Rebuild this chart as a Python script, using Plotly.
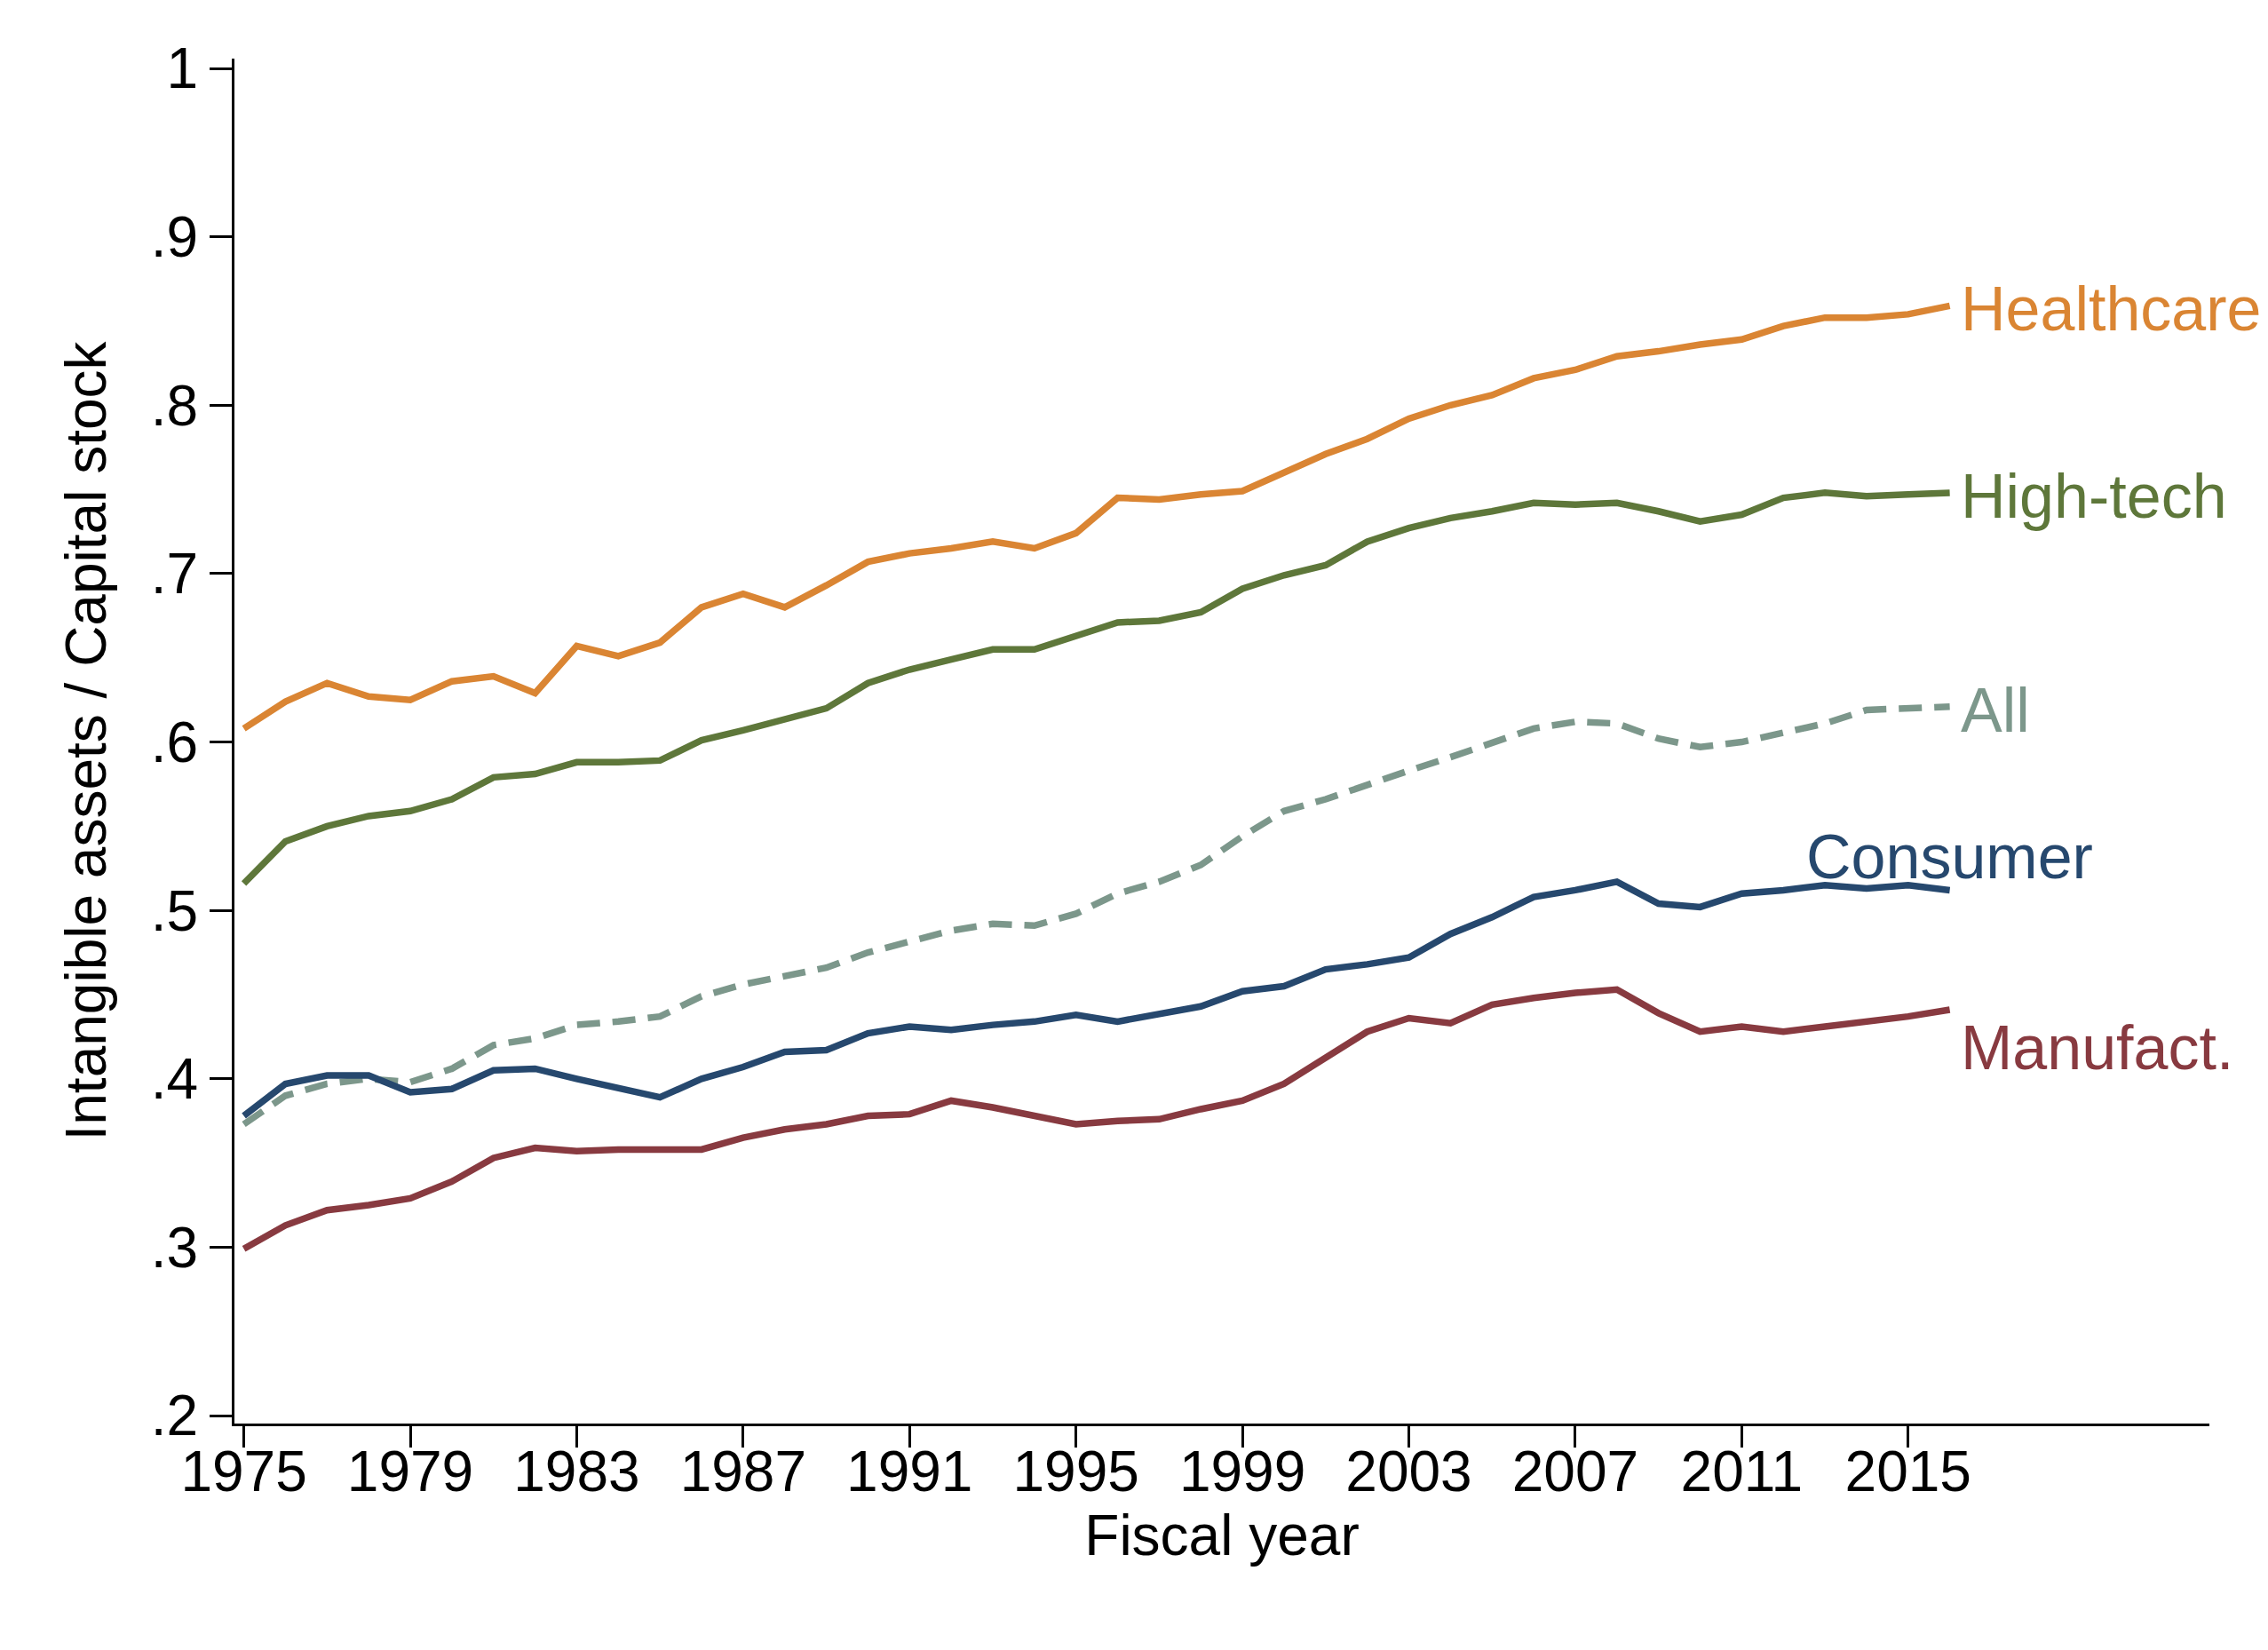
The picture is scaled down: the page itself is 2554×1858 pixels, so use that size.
import plotly.graph_objects as go

years = list(range(1975, 2017))

healthcare = [0.608, 0.624, 0.635, 0.627, 0.625, 0.636, 0.639, 0.629, 0.657, 0.651,
              0.659, 0.680, 0.688, 0.680, 0.693, 0.707, 0.712, 0.715, 0.719, 0.715,
              0.724, 0.745, 0.744, 0.747, 0.749, 0.760, 0.771, 0.780, 0.792, 0.800,
              0.806, 0.816, 0.821, 0.829, 0.832, 0.836, 0.839, 0.847, 0.852, 0.852,
              0.854, 0.859]

hightech = [0.516, 0.541, 0.550, 0.556, 0.559, 0.566, 0.579, 0.581, 0.588, 0.588,
            0.589, 0.601, 0.607, 0.614, 0.620, 0.635, 0.643, 0.649, 0.655, 0.655,
            0.663, 0.671, 0.672, 0.677, 0.691, 0.699, 0.705, 0.719, 0.727, 0.733,
            0.737, 0.742, 0.741, 0.742, 0.737, 0.731, 0.735, 0.745, 0.748, 0.746,
            0.747, 0.748]

all_firms = [0.373, 0.390, 0.397, 0.400, 0.398, 0.406, 0.420, 0.424, 0.432, 0.434,
             0.437, 0.449, 0.456, 0.461, 0.466, 0.475, 0.481, 0.488, 0.492, 0.491,
             0.498, 0.510, 0.517, 0.527, 0.544, 0.559, 0.566, 0.575, 0.583, 0.591,
             0.600, 0.608, 0.612, 0.611, 0.602, 0.597, 0.600, 0.605, 0.611, 0.619,
             0.620, 0.621]

consumer = [0.378, 0.397, 0.402, 0.402, 0.392, 0.394, 0.405, 0.406, 0.400, 0.394,
            0.389, 0.400, 0.407, 0.416, 0.417, 0.427, 0.431, 0.429, 0.432, 0.434,
            0.438, 0.434, 0.438, 0.443, 0.452, 0.455, 0.465, 0.468, 0.472, 0.486,
            0.496, 0.508, 0.512, 0.517, 0.504, 0.502, 0.510, 0.512, 0.515, 0.513,
            0.515, 0.512]

manufact = [0.299, 0.313, 0.322, 0.325, 0.329, 0.339, 0.353, 0.359, 0.357, 0.358,
            0.358, 0.358, 0.365, 0.370, 0.373, 0.378, 0.379, 0.387, 0.383, 0.378,
            0.373, 0.375, 0.376, 0.382, 0.387, 0.397, 0.413, 0.428, 0.436, 0.433,
            0.444, 0.448, 0.451, 0.453, 0.439, 0.428, 0.431, 0.428, 0.431, 0.434,
            0.437, 0.441]

series_names = ["Healthcare", "High-tech", "All", "Consumer", "Manufact."]
series_values = [healthcare, hightech, all_firms, consumer, manufact]
series_colors = ["#DA8533", "#5E773A", "#7C978B", "#26486E", "#883A40"]
series_dash = ["solid", "solid", "26px,14px", "solid", "solid"]

x_ticks = list(range(1975, 2016, 4))
y_tickvals = [0.2, 0.3, 0.4, 0.5, 0.6, 0.7, 0.8, 0.9, 1.0]
y_ticktext = [".2", ".3", ".4", ".5", ".6", ".7", ".8", ".9", "1"]

FONT = "Liberation Sans, Arial, Helvetica, sans-serif"

fig = go.Figure()
for name, vals, col, dash in zip(series_names, series_values, series_colors, series_dash):
    fig.add_trace(go.Scatter(x=years, y=vals, mode="lines", name=name,
                             line=dict(color=col, width=7.5, dash=dash),
                             showlegend=False))

# labels at line ends
label_cfg = {
    "Healthcare": dict(xanchor="left", yanchor="middle", xshift=10, yshift=-4),
    "High-tech": dict(xanchor="left", yanchor="middle", xshift=10, yshift=-4),
    "All": dict(xanchor="left", yanchor="middle", xshift=10, yshift=-4),
    "Consumer": dict(xanchor="center", yanchor="bottom", xshift=0, yshift=-4),
    "Manufact.": dict(xanchor="left", yanchor="top", xshift=10, yshift=-2),
}
for name, vals, col in zip(series_names, series_values, series_colors):
    cfg = label_cfg[name]
    fig.add_annotation(x=years[-1], y=vals[-1], text=name, showarrow=False,
                       font=dict(family=FONT, size=70, color=col), **cfg)

# page body has an 8px margin: shrink figure so the plot area lands where intended
fig.update_layout(
    width=2546, height=1850,
    paper_bgcolor="white", plot_bgcolor="white",
    margin=dict(l=256, r=66, t=58, b=255),
    font=dict(family=FONT, color="black"),
)

fig.update_xaxes(
    range=[1974.774, 2022.24], tickvals=x_ticks,
    showgrid=False, zeroline=False,
    showline=True, linecolor="black", linewidth=3,
    ticks="outside", ticklen=24, tickwidth=3, tickcolor="black",
    tickfont=dict(family=FONT, size=64, color="black"),
    ticklabelstandoff=-28,
    title=dict(text="Fiscal year", font=dict(family=FONT, size=64, color="black"), standoff=0),
)
fig.update_yaxes(
    range=[0.1953, 1.0058], tickvals=y_tickvals, ticktext=y_ticktext,
    showgrid=False, zeroline=False,
    showline=True, linecolor="black", linewidth=3,
    ticks="outside", ticklen=25, tickwidth=3, tickcolor="black",
    tickfont=dict(family=FONT, size=64, color="black"),
    title=dict(text="Intangible assets / Capital stock",
               font=dict(family=FONT, size=64, color="black"), standoff=30),
)

fig.write_html("out.html")
